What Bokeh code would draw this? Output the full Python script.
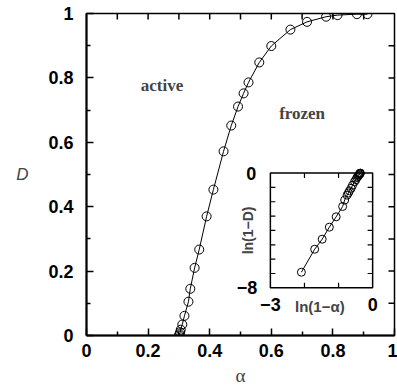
import numpy as np
from bokeh.plotting import figure
from bokeh.models import Range1d, FixedTicker, Label
from bokeh.embed import file_html
from bokeh.resources import INLINE

# ---- main data: D versus alpha ----
alpha = [0.300, 0.302, 0.304, 0.306, 0.311, 0.318, 0.331, 0.337, 0.351, 0.366,
         0.390, 0.412, 0.445, 0.470, 0.492, 0.510, 0.526, 0.561, 0.600, 0.662,
         0.716, 0.778, 0.815, 0.878, 0.912]
D = [0.000, 0.004, 0.010, 0.018, 0.034, 0.061, 0.105, 0.145, 0.210, 0.267,
     0.370, 0.453, 0.572, 0.652, 0.711, 0.752, 0.786, 0.848, 0.899, 0.950,
     0.974, 0.990, 0.995, 0.998, 0.998]

# ---- inset data: ln(1-D) versus ln(1-alpha) ----
ln_1_alpha = [-2.09, -1.70, -1.48, -1.27, -1.07, -0.88, -0.82, -0.75, -0.71, -0.68,
              -0.63, -0.59, -0.53, -0.49, -0.46, -0.43, -0.41, -0.40, -0.38, -0.37,
              -0.365, -0.36]
ln_1_D = [-6.91, -5.31, -4.61, -3.77, -3.05, -2.33, -1.88, -1.54, -1.39, -1.24,
          -1.06, -0.85, -0.60, -0.46, -0.31, -0.24, -0.16, -0.11, -0.06, -0.03,
          -0.015, -0.005]

# ---- ticks ----
main_ticks = [0.0, 0.2, 0.4, 0.6, 0.8, 1.0]
main_tick_labels = ["0", "0.2", "0.4", "0.6", "0.8", "1"]
main_minor = [0.1, 0.3, 0.5, 0.7, 0.9]
frame_ticks = [0.1, 0.2, 0.3, 0.4, 0.5, 0.6, 0.7, 0.8, 0.9]
inset_x_ticks = [-2, -1]
inset_y_ticks = [-7, -6, -5, -4, -3, -2, -1]
inset_x_lim = (-3, 0)
inset_y_lim = (-8, 0)

# inset placement (in main-axis units) -- layout only
INSET_X = (0.597, 0.929)
INSET_Y = (0.148, 0.5045)

SANS = "Liberation Sans"
SERIF = "Liberation Serif"

p = figure(width=397, height=392, output_backend="svg", toolbar_location=None,
           x_range=Range1d(0, 1), y_range=Range1d(0, 1),
           min_border_left=86, min_border_right=3, min_border_top=13,
           min_border_bottom=57)
p.xgrid.visible = False
p.ygrid.visible = False
p.outline_line_color = "black"
p.outline_line_width = 1.5
p.background_fill_color = "white"
p.border_fill_color = "white"

overrides = {t: l for t, l in zip(main_ticks, main_tick_labels)}
for ax in (p.xaxis[0], p.yaxis[0]):
    ax.ticker = FixedTicker(ticks=main_ticks, minor_ticks=main_minor)
    ax.major_label_overrides = overrides
    ax.axis_line_width = 2
    ax.axis_line_color = "black"
    ax.major_tick_in = 7
    ax.major_tick_out = 0
    ax.minor_tick_in = 4
    ax.minor_tick_out = 0
    ax.major_tick_line_width = 1.5
    ax.minor_tick_line_width = 1.5
    ax.major_label_text_font = SANS
    ax.major_label_text_font_style = "bold"
    ax.major_label_text_color = "black"
p.xaxis.major_label_text_font_size = "18px"
p.yaxis.major_label_text_font_size = "18px"
p.xaxis.major_label_standoff = 8
p.yaxis.major_label_standoff = 13
p.xaxis.axis_label = "α"
p.xaxis.axis_label_text_font = SERIF
p.xaxis.axis_label_text_font_style = "normal"
p.xaxis.axis_label_text_font_size = "19px"
p.xaxis.axis_label_standoff = 5

yax = p.yaxis[0]
yax.axis_label = "D"
yax.axis_label_text_font = SANS
yax.axis_label_text_font_style = "italic"
yax.axis_label_text_font_size = "17px"
yax.axis_label_standoff = 17
if hasattr(yax, "axis_label_orientation"):
    yax.axis_label_orientation = "horizontal"

# ticks on the top and right frame edges
nt = len(frame_ticks)
p.ray(x=frame_ticks, y=[1.0] * nt, length=6, length_units="screen",
      angle=-np.pi / 2, line_color="black", line_width=1.5)
p.ray(x=[1.0] * nt, y=frame_ticks, length=6, length_units="screen",
      angle=np.pi, line_color="black", line_width=1.5)

# main curve
p.line(alpha, D, line_color="black", line_width=1)
p.scatter(alpha, D, marker="circle", size=9, fill_color=None,
          line_color="black", line_width=1)

p.add_layout(Label(x=0.245, y=0.777, text="active", text_font=SERIF,
                   text_font_style="bold", text_font_size="17px",
                   text_align="center", text_baseline="middle"))
p.add_layout(Label(x=0.70, y=0.689, text="frozen", text_font=SERIF,
                   text_font_style="bold", text_font_size="17px",
                   text_align="center", text_baseline="middle"))

# ---- inset via extra ranges ----
sx = (inset_x_lim[1] - inset_x_lim[0]) / (INSET_X[1] - INSET_X[0])
sy = (inset_y_lim[1] - inset_y_lim[0]) / (INSET_Y[1] - INSET_Y[0])
p.extra_x_ranges = {"ix": Range1d(inset_x_lim[0] - INSET_X[0] * sx,
                                  inset_x_lim[1] + (1 - INSET_X[1]) * sx)}
p.extra_y_ranges = {"iy": Range1d(inset_y_lim[0] - INSET_Y[0] * sy,
                                  inset_y_lim[1] + (1 - INSET_Y[1]) * sy)}
R = dict(x_range_name="ix", y_range_name="iy")

p.quad(left=[inset_x_lim[0]], right=[inset_x_lim[1]], bottom=[inset_y_lim[0]],
       top=[inset_y_lim[1]], fill_color="white", line_color="black",
       line_width=1.5, **R)
tl = 5
n_y = len(inset_y_ticks)
n_x = len(inset_x_ticks)
p.ray(x=[inset_x_lim[0]] * n_y, y=inset_y_ticks, length=tl, length_units="screen",
      angle=0, line_color="black", line_width=1.2, **R)
p.ray(x=[inset_x_lim[1]] * n_y, y=inset_y_ticks, length=tl, length_units="screen",
      angle=np.pi, line_color="black", line_width=1.2, **R)
p.ray(x=inset_x_ticks, y=[inset_y_lim[0]] * n_x, length=tl, length_units="screen",
      angle=np.pi / 2, line_color="black", line_width=1.2, **R)
p.ray(x=inset_x_ticks, y=[inset_y_lim[1]] * n_x, length=tl, length_units="screen",
      angle=-np.pi / 2, line_color="black", line_width=1.2, **R)

p.line(ln_1_alpha, ln_1_D, line_color="black", line_width=1, **R)
p.scatter(ln_1_alpha, ln_1_D, marker="circle", size=8, fill_color=None,
          line_color="black", line_width=1, **R)

lab = dict(text_font=SANS, text_font_style="bold", text_font_size="18px",
           text_color="black", **R)
p.add_layout(Label(x=inset_x_lim[0], y=inset_y_lim[1], text="0", x_offset=-14,
                   text_align="right", text_baseline="middle", **lab))
p.add_layout(Label(x=inset_x_lim[0], y=inset_y_lim[0], text="\u22128", x_offset=-13,
                   text_align="right", text_baseline="middle", **lab))
p.add_layout(Label(x=inset_x_lim[0], y=inset_y_lim[0], text="\u22123", y_offset=-10,
                   text_align="center", text_baseline="top", **lab))
p.add_layout(Label(x=inset_x_lim[1], y=inset_y_lim[0], text="0", y_offset=-10,
                   text_align="center", text_baseline="top", **lab))
p.add_layout(Label(x=(inset_x_lim[0] + inset_x_lim[1]) / 2 - 0.05, y=inset_y_lim[0],
                   text="ln(1\u2212α)", y_offset=-10, text_align="center",
                   text_baseline="top", text_font=SANS, text_font_style="bold",
                   text_font_size="15px", x_range_name="ix", y_range_name="iy"))
p.add_layout(Label(x=inset_x_lim[0], y=(inset_y_lim[0] + inset_y_lim[1]) / 2,
                   text="ln(1\u2212D)", x_offset=-22, angle=np.pi / 2,
                   text_align="center", text_baseline="middle", text_font=SANS,
                   text_font_style="bold", text_font_size="14px",
                   x_range_name="ix", y_range_name="iy"))

open("out.html", "w").write(file_html(p, INLINE))
